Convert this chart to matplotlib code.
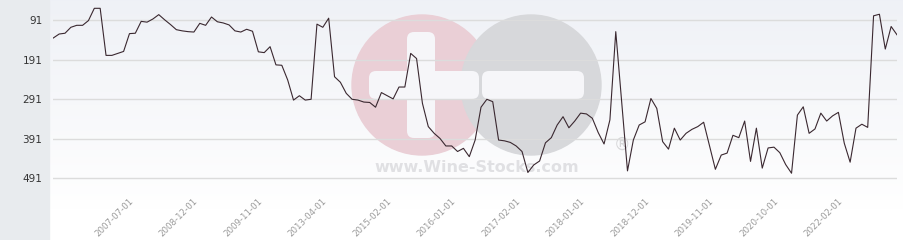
import numpy as np
import matplotlib
matplotlib.use("Agg")
import matplotlib.pyplot as plt
from matplotlib.patches import Rectangle, Circle, FancyBboxPatch

# ranking values (lower is better, axis inverted)
rank = [136, 126, 124, 109, 104, 104, 92, 61, 61, 180,
        180, 175, 170, 125, 124, 94, 96, 88, 77, 90,
        102, 115, 118, 120, 121, 99, 104, 83, 95, 98,
        103, 118, 121, 114, 119, 171, 173, 158, 204, 205,
        242, 293, 282, 293, 291, 101, 109, 86, 234, 248,
        276, 291, 293, 298, 299, 311, 274, 282, 290, 260,
        260, 175, 188, 301, 360, 377, 390, 409, 409, 423,
        415, 436, 394, 311, 291, 297, 394, 396, 400, 409,
        423, 476, 457, 447, 401, 388, 356, 335, 363, 346,
        326, 328, 339, 375, 404, 343, 120, 296, 472, 394,
        356, 348, 289, 314, 398, 417, 364, 394, 377, 367,
        360, 349, 408, 468, 432, 427, 382, 388, 346, 448,
        364, 465, 414, 412, 426, 456, 478, 331, 310, 377,
        366, 326, 346, 333, 324, 402, 450, 364, 354, 362,
        80, 76, 164, 107, 128]

date_labels = ['2007-07-01', '2008-12-01', '2009-11-01', '2013-04-01',
               '2015-02-01', '2016-01-01', '2017-02-01', '2018-01-01',
               '2018-12-01', '2019-11-01', '2020-10-01', '2022-02-01']
label_pos = [14 + 11 * i for i in range(len(date_labels))]
y_ticks = [91, 191, 291, 391, 491]

W, H = 904, 240
fig = plt.figure(figsize=(W / 100, H / 100), dpi=100)

# background layer in pixel coords
bg = fig.add_axes([0, 0, 1, 1])
bg.set_xlim(0, W)
bg.set_ylim(H, 0)
bg.axis('off')
grad = np.linspace(0, 1, 200).reshape(-1, 1)
top = np.array([0.937, 0.945, 0.965])
bot = np.array([1.0, 1.0, 1.0])
img = top + (bot - top) * grad[..., None]
img = np.repeat(img, 2, axis=1)
bg.imshow(img, extent=(49, W, 210, 0), aspect='auto', zorder=0)
bg.add_patch(Rectangle((0, 0), 49, H, color='#e8ebee', zorder=1))

# watermark logo
bg.add_patch(Circle((422, 85), 70, color='#eacfd6', zorder=2))
bg.add_patch(Circle((531, 85), 70, color='#d7d8db', zorder=3))
bg.add_patch(FancyBboxPatch((414, 39), 14, 92, boxstyle='round,pad=7',
                            fc='#f6f6f9', ec='none', zorder=4))
bg.add_patch(FancyBboxPatch((376, 78), 96, 14, boxstyle='round,pad=7',
                            fc='#f6f6f9', ec='none', zorder=4))
bg.add_patch(FancyBboxPatch((489, 78), 88, 14, boxstyle='round,pad=7',
                            fc='#f6f6f9', ec='none', zorder=4))
bg.text(477, 167, 'www.Wine-Stocks.com', ha='center', va='center',
        fontsize=11.5, fontweight='bold', color='#e0e0e3', zorder=5)
bg.text(622, 145, '\u00ae', ha='center', va='center',
        fontsize=12, color='#d6d6d8', zorder=5)

# main chart
left, right = 53.3, 897
ax = fig.add_axes([left / W, 43 / H, (right - left) / W, 1 - 43 / H])
ax.set_facecolor('none')
x = np.arange(len(rank))
ax.plot(x, rank, color='#3a2830', lw=0.8, zorder=3)
ax.set_xlim(0, len(rank) - 1)
ax.set_ylim(538, 40)
ax.set_yticks(y_ticks)
ax.set_yticklabels([str(v) for v in y_ticks])
ax.set_xticks(label_pos)
ax.set_xticklabels(date_labels, rotation=45, ha='right', va='top',
                   rotation_mode='default')
ax.tick_params(axis='y', length=0, pad=8, labelsize=7.5, labelcolor='#333333')
ax.tick_params(axis='x', length=0, pad=0, labelsize=6.2, labelcolor='#9a9a9a')
ax.grid(axis='y', color='#dcdcdc', lw=1)
ax.grid(axis='x', visible=False)
for s in ax.spines.values():
    s.set_visible(False)

fig.savefig('out.png', dpi=100)
